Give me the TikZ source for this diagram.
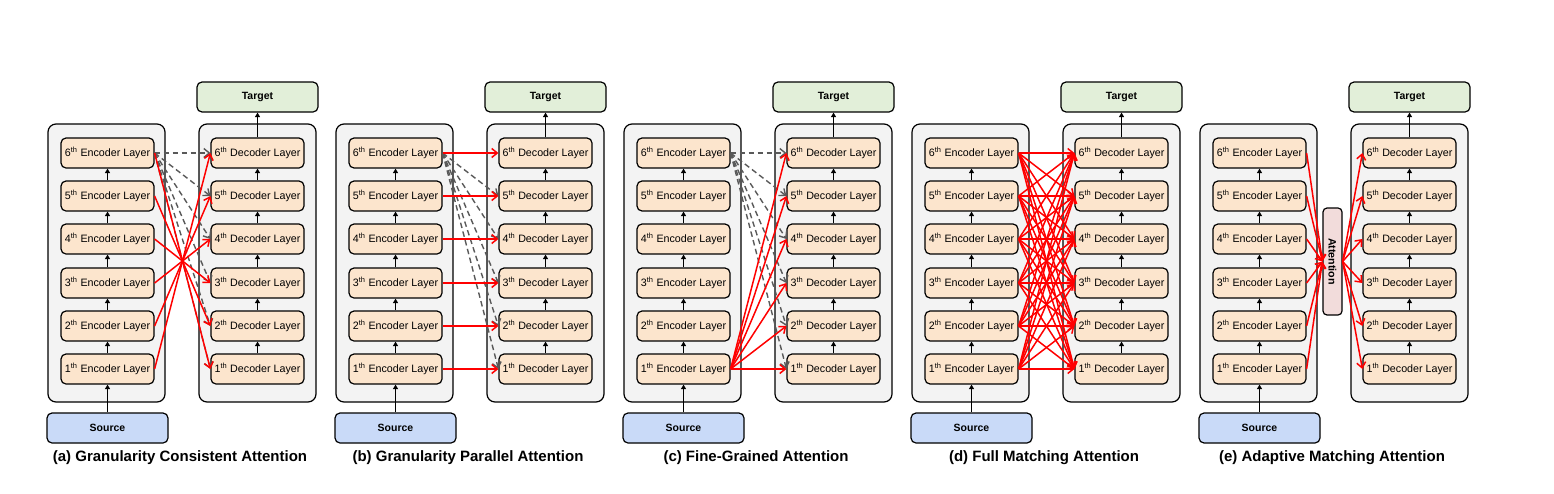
\documentclass[tikz,border=0pt]{standalone}
\usepackage{fontspec}
\setmainfont{Liberation Sans}
\usetikzlibrary{arrows.meta}
\definecolor{stackgray}{HTML}{F3F3F3}
\definecolor{layerfill}{HTML}{FCE5CD}
\definecolor{srcblue}{HTML}{C9DAF8}
\definecolor{tgtgreen}{HTML}{E2EFD9}
\definecolor{attnpink}{HTML}{F2DCDB}
\definecolor{dashgray}{HTML}{595959}
\begin{document}
\begin{tikzpicture}[
    x=1pt,y=-1pt,
    stack/.style={draw=black,line width=1.2pt,rounded corners=8pt,fill=stackgray,minimum width=117pt,minimum height=278pt},
    layer/.style={draw=black,line width=1.2pt,rounded corners=5pt,fill=layerfill,minimum width=93pt,minimum height=30pt,inner sep=0pt,font=\fontsize{10.7}{12}\selectfont},
    io/.style={draw=black,line width=1.2pt,rounded corners=5pt,minimum width=121pt,minimum height=30pt,inner sep=0pt,font=\fontsize{10.5}{12}\selectfont\bfseries},
    flow/.style={-{Triangle[length=4.5pt,width=5pt]},line width=1.1pt},
    attn/.style={-{Straight Barb[length=5.5pt,width=9pt]},draw=red,line width=1.5pt},
    skip/.style={-{Straight Barb[length=5.5pt,width=9pt]},draw=dashgray,line width=1.4pt,dash pattern=on 5.5pt off 3.5pt},
    caption/.style={font=\fontsize{15}{18}\selectfont\bfseries}
]
\useasboundingbox (0,0) rectangle (1554,493);

% Common encoder / decoder stacks of every panel
\foreach \p/\captext [count=\k from 0] in {a/Granularity Consistent Attention,b/Granularity Parallel Attention,c/Fine-Grained Attention,d/Full Matching Attention,e/Adaptive Matching Attention} {
\begin{scope}[xshift=\k*288pt]
    \node[stack] (\p-encbox) at (106.5,263) {};
    \node[stack] (\p-decbox) at (257.5,263) {};
    \foreach \i/\y in {1/369,2/326,3/283,4/239,5/196,6/153} {
        \node[layer] (\p-enc\i) at (107.5,\y) {\i\textsuperscript{th} Encoder Layer};
        \node[layer] (\p-dec\i) at (257.5,\y) {\i\textsuperscript{th} Decoder Layer};
    }
    \foreach \i [count=\j from 2] in {1,...,5} {
        \draw[flow] (\p-enc\i) -- (\p-enc\j);
        \draw[flow] (\p-dec\i) -- (\p-dec\j);
    }
    \node[io,fill=srcblue] (\p-src) at (107.5,428) {Source};
    \node[io,fill=tgtgreen] (\p-tgt) at (257.5,97) {Target};
    \draw[flow] (\p-src) -- (\p-enc1);
    \draw[flow] (\p-dec6) -- (\p-tgt);
    \node[caption] (\p-cap) at (180,458) {(\p) \captext};
\end{scope}
}

% (a) Granularity consistent
\foreach \i in {1,...,6} \draw[skip] (a-enc6.east) -- (a-dec\i.west);
\foreach \i in {1,...,6} {
    \pgfmathtruncatemacro{\j}{7-\i}
    \draw[attn] (a-enc\i.east) -- (a-dec\j.west);
}

% (b) Granularity parallel
\foreach \i in {1,...,5} \draw[skip] (b-enc6.east) -- (b-dec\i.west);
\foreach \i in {1,...,6} \draw[attn] (b-enc\i.east) -- (b-dec\i.west);

% (c) Fine-grained
\foreach \i in {1,...,6} \draw[skip] (c-enc6.east) -- (c-dec\i.west);
\foreach \i in {1,...,6} \draw[attn] (c-enc1.east) -- (c-dec\i.west);

% (d) Full matching
\foreach \i in {1,...,6} {
    \foreach \j in {1,...,6} {
        \draw[attn] (d-enc\i.east) -- (d-dec\j.west);
    }
}

% (e) Adaptive matching
\node[draw=black,line width=1.2pt,rounded corners=4pt,fill=attnpink,rotate=-90,minimum width=107pt,minimum height=19pt,inner sep=0pt,font=\fontsize{10.7}{12}\selectfont\bfseries] (e-attn) at (1332.5,261.5) {Attention};
\foreach \i in {1,...,6} {
    \draw[attn] (e-enc\i.east) -- (e-attn.south);
    \draw[attn] (e-attn.north) -- (e-dec\i.west);
}

\end{tikzpicture}
\end{document}
